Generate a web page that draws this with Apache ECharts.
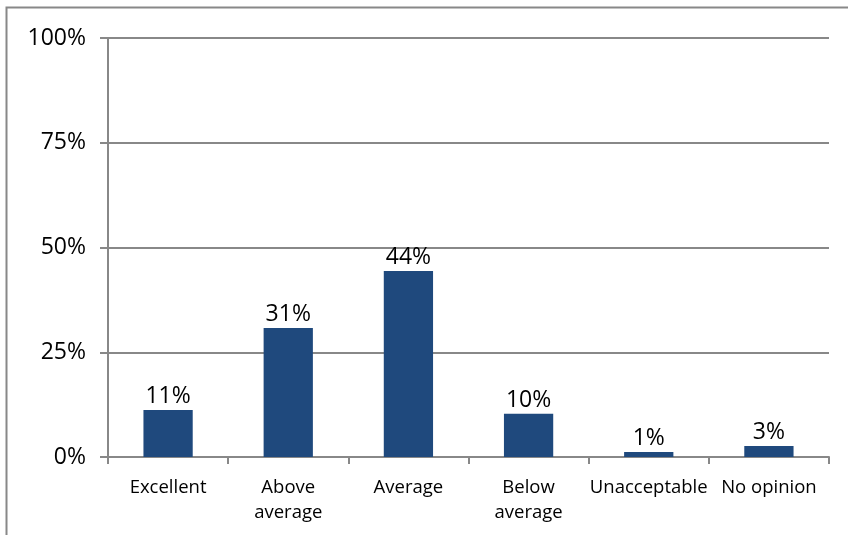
<!DOCTYPE html>
<html>
<head>
<meta charset="utf-8">
<script src="https://cdn.jsdelivr.net/npm/echarts@6/dist/echarts.min.js"></script>
<style>
  html, body { margin: 0; padding: 0; background: #fff; }
  #chart { width: 848px; height: 535px; }
</style>
</head>
<body>
<div id="chart"></div>
<script>
// categories and values (percent)
const categories = ['Excellent', 'Above\naverage', 'Average', 'Below\naverage', 'Unacceptable', 'No opinion']
const values = [11.2, 30.8, 44.4, 10.3, 1.2, 2.6]
const yTicks = [0, 25, 50, 75, 100]

const chart = echarts.init(document.getElementById('chart'))
const font = '"Open Sans", sans-serif'
const lineColor = '#888888'

const option = {
  animation: false,
  graphic: [
    {
      type: 'rect',
      shape: { x: 6.5, y: 7.5, width: 860, height: 540 },
      style: { fill: 'none', stroke: lineColor, lineWidth: 2 }
    }
  ],
  grid: { left: 108, right: 19, top: 38, bottom: 78 },
  xAxis: {
    type: 'category',
    data: categories,
    axisLine: { lineStyle: { color: lineColor, width: 2 } },
    axisTick: { show: true, length: 7, alignWithLabel: false, lineStyle: { color: lineColor, width: 2 } },
    axisLabel: { color: '#000', fontFamily: font, fontSize: 18.5, margin: 18, lineHeight: 25, interval: 0 }
  },
  yAxis: {
    type: 'value',
    min: yTicks[0],
    max: yTicks[yTicks.length - 1],
    interval: 25,
    axisLine: { show: true, lineStyle: { color: lineColor, width: 2 } },
    axisTick: { show: true, length: 8, lineStyle: { color: lineColor, width: 2 } },
    splitLine: { lineStyle: { color: lineColor, width: 2 } },
    axisLabel: { color: '#000', fontFamily: font, fontSize: 23, margin: 22, formatter: '{value}%' }
  },
  series: [
    {
      type: 'bar',
      data: values,
      barWidth: '41%',
      itemStyle: { color: '#1F497D' },
      label: {
        show: true,
        position: 'top',
        distance: 2,
        color: '#000',
        fontFamily: font,
        fontSize: 23,
        formatter: p => Math.round(p.value) + '%'
      }
    }
  ]
}
chart.setOption(option)
</script>
</body>
</html>
